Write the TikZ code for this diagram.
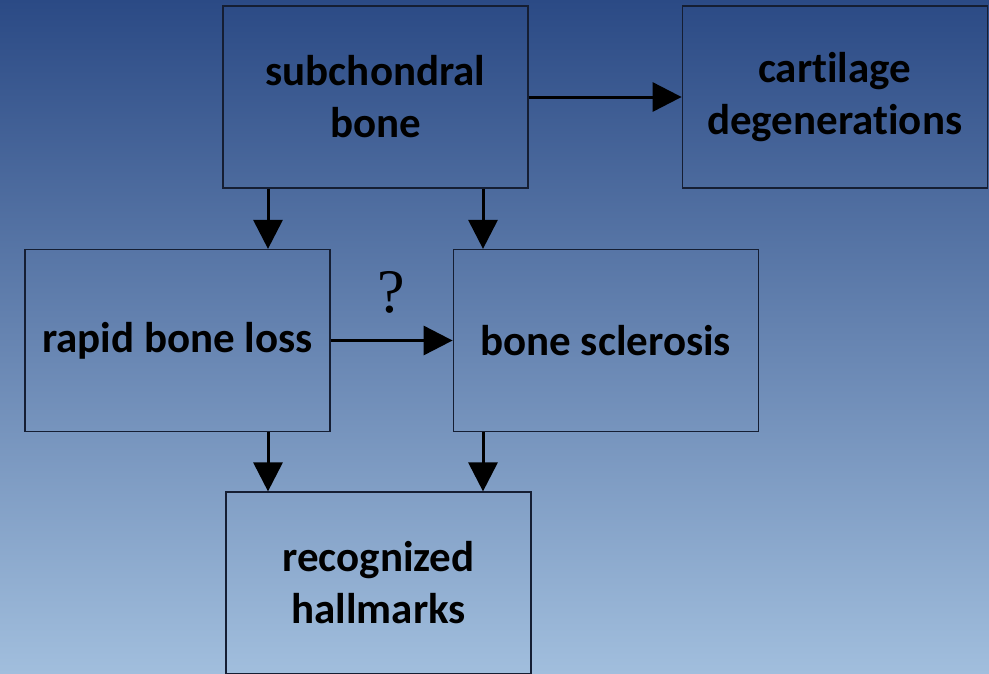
\documentclass[tikz,border=0pt]{standalone}
\usepackage{fontspec}
\setmainfont{Carlito}[Ligatures=NoCommon]
\newfontfamily\quesfont{Liberation Serif}
\usetikzlibrary{arrows.meta, positioning}

\definecolor{bgtop}{HTML}{2B4A85}
\definecolor{bgbottom}{HTML}{A1BEDD}
\definecolor{boxline}{HTML}{151E33}

\begin{document}
\begin{tikzpicture}[
    x=1pt, y=-1pt,
    every node/.style={font=\fontsize{43}{52}\selectfont\bfseries},
    stage/.style={rectangle, draw=boxline, line width=1.2pt, minimum width=305pt, minimum height=182pt, align=center, inner sep=0pt},
    arrow/.style={-{Triangle[length=29pt, width=29pt]}, line width=3pt}
]
% background
\shade[top color=bgtop, bottom color=bgbottom] (0,0) rectangle (989,673);
\useasboundingbox (0,0) rectangle (989,673);

\node (sub) [stage] at (375.5,97) {subchondral\\bone};
\node (cart) [stage, right=153pt of sub] {cartilage\\degenerations};
\node (loss) [stage] at (177.5,340.5) {rapid bone loss};
\node (scl) [stage, right=122pt of loss] {bone sclerosis};
\node (hall) [stage] at (378.5,583) {recognized\\hallmarks};

\coordinate (lcol) at (268,0);
\coordinate (rcol) at (483,0);

\draw [arrow] (sub) -- (cart);
\draw [arrow] (sub.south -| lcol) -- (loss.north -| lcol);
\draw [arrow] (sub.south -| rcol) -- (scl.north -| rcol);
\draw [arrow] (loss) -- node[yshift=48pt, font=\fontsize{62}{62}\selectfont\quesfont] {?} (scl);
\draw [arrow] (loss.south -| lcol) -- (hall.north -| lcol);
\draw [arrow] (scl.south -| rcol) -- (hall.north -| rcol);
\end{tikzpicture}
\end{document}
